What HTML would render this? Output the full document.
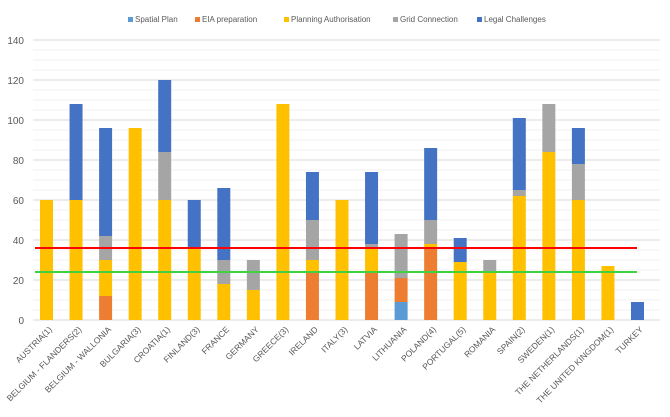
<!DOCTYPE html>
<html><head><meta charset="utf-8"><style>
html,body{margin:0;padding:0;background:#fff;}
svg{display:block;font-family:"Liberation Sans",sans-serif;}
</style></head><body>
<svg id="c" width="670" height="417" viewBox="0 0 670 417" xmlns="http://www.w3.org/2000/svg">
<rect width="670" height="417" fill="#fff"/>
<g id="g"></g>
</svg>
<script>
const g=document.getElementById('g');
const NS='http://www.w3.org/2000/svg';
function el(t,a,txt){const e=document.createElementNS(NS,t);for(const k in a)e.setAttribute(k,a[k]);if(txt!==undefined)e.textContent=txt;g.appendChild(e);return e;}
const Y=v=>320-v*2;
for(let v=0;v<=140;v+=5){el('line',{x1:33,x2:660,y1:Y(v),y2:Y(v),stroke:v%20==0?'#d9d9d9':'#f2f2f2','stroke-width':1});}
for(let v=0;v<=140;v+=20){el('text',{x:24,y:Y(v)+4,'text-anchor':'end','font-size':10,fill:'#595959'},String(v));}
const C=['#5B9BD5','#ED7D31','#FFC000','#A5A5A5','#4472C4'];
const D=[
['AUSTRIA(1)',[0,0,60,60,60]],
['BELGIUM - FLANDERS(2)',[0,0,60,60,108]],
['BELGIUM - WALLONIA',[0,12,30,42,96]],
['BULGARIA(3)',[0,0,96,96,96]],
['CROATIA(1)',[0,0,60,84,120]],
['FINLAND(3)',[0,0,36,36,60]],
['FRANCE',[0,0,18,30,66]],
['GERMANY',[0,0,15,30,30]],
['GREECE(3)',[0,0,108,108,108]],
['IRELAND',[0,24,30,50,74]],
['ITALY(3)',[0,0,60,60,60]],
['LATVIA',[0,24,36,38,74]],
['LITHUANIA',[9,21,21,43,43]],
['POLAND(4)',[0,36,38,50,86]],
['PORTUGAL(5)',[0,0,29,29,41]],
['ROMANIA',[0,0,24,30,30]],
['SPAIN(2)',[0,0,62,65,101]],
['SWEDEN(1)',[0,0,84,108,108]],
['THE NETHERLANDS(1)',[0,0,60,78,96]],
['THE UNITED KINGDOM(1)',[0,0,27,27,27]],
['TURKEY',[0,0,0,0,9]]];
D.forEach((d,i)=>{const cx=46.5+i*29.55;let prev=0;
d[1].forEach((t,j)=>{if(t>prev){el('rect',{x:cx-6.5,y:Y(t),width:13,height:(t-prev)*2,fill:C[j]});}prev=Math.max(prev,t);});
el('text',{x:cx+6,y:330,'text-anchor':'end','font-size':8.5,fill:'#595959',transform:`rotate(-45 ${cx+6} 330)`},d[0]);
});
el('line',{x1:35,x2:637,y1:Y(36),y2:Y(36),stroke:'#FF0000','stroke-width':2});
el('line',{x1:35,x2:637,y1:Y(24),y2:Y(24),stroke:'#3FD13F','stroke-width':2});
const L=[['Spatial Plan',128],['EIA preparation',195],['Planning Authorisation',284],['Grid Connection',393],['Legal Challenges',477]];
L.forEach((l,i)=>{el('rect',{x:l[1],y:17,width:5,height:5,fill:C[i]});el('text',{x:l[1]+7,y:22,'font-size':8,fill:'#595959'},l[0]);});
</script>
</body></html>
